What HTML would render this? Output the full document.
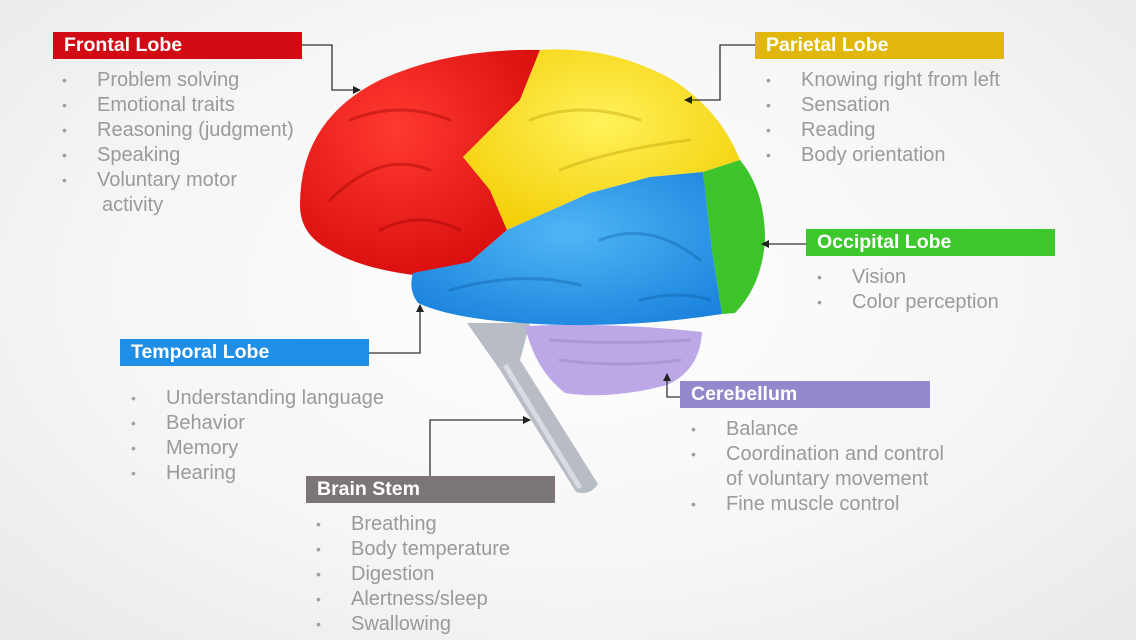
<!DOCTYPE html>
<html><head><meta charset="utf-8"><style>
body{margin:0;width:1136px;height:640px;overflow:hidden;background:radial-gradient(ellipse at 50% 45%,#ffffff 0%,#f6f6f6 55%,#e9e9e9 100%);font-family:"Liberation Sans",sans-serif;position:relative}
.box{position:absolute;height:27px;color:#fff;font-weight:bold;font-size:19.5px;line-height:27px;padding-left:11px;box-sizing:border-box}
.l{position:absolute;color:#9a9a9a;font-size:20px;line-height:25px;white-space:nowrap}
.l div{position:relative;padding-left:35px}
.l div.b:before{content:"•";position:absolute;left:0;font-size:14px;color:#a0a0a0}
svg{position:absolute;left:0;top:0}
</style></head><body>
<svg width="1136" height="640" viewBox="0 0 1136 640">
<defs>
<marker id="a" markerWidth="8" markerHeight="8" refX="7" refY="4" orient="auto" markerUnits="userSpaceOnUse"><path d="M0,0L8,4L0,8z" fill="#222"/></marker>
<radialGradient id="rg" cx="0.4" cy="0.35" r="0.7"><stop offset="0" stop-color="#ff3a30"/><stop offset="1" stop-color="#d80d0d"/></radialGradient>
<radialGradient id="yg" cx="0.5" cy="0.4" r="0.7"><stop offset="0" stop-color="#fff25a"/><stop offset="1" stop-color="#f2cc00"/></radialGradient>
<radialGradient id="bg" cx="0.5" cy="0.4" r="0.7"><stop offset="0" stop-color="#4fb6f5"/><stop offset="1" stop-color="#1a82dc"/></radialGradient>
</defs>
<path d="M467,323 L530,323 L520,360 L598,484 Q590,496 576,492 L500,370 Z" fill="#b8bcc4"/>
<path d="M505,365 L580,488" stroke="#d8dce2" stroke-width="5"/>
<path d="M525,326 Q610,322 702,332 Q700,370 667,385 Q610,400 565,393 Q535,370 525,326Z" fill="#bca8e6"/>
<path d="M300,205 Q300,120 380,80 Q450,48 540,50 L520,100 L463,157 L490,190 L507,230 L470,262 L413,275 Q360,268 330,250 Q300,235 300,205Z" fill="url(#rg)"/>
<path d="M540,50 Q610,45 673,80 Q720,110 740,160 L703,172 L650,177 L590,193 L507,230 L490,190 L463,157 L520,100 Z" fill="url(#yg)"/>
<path d="M740,160 Q765,190 765,240 Q762,285 735,313 L722,314 L712,250 L703,172 Z" fill="#3cc42a"/>
<path d="M413,273 L470,262 L507,230 L590,193 L650,177 L703,172 L712,250 L722,314 Q620,330 520,323 Q450,318 418,303 Q408,290 413,273Z" fill="url(#bg)"/>
<g fill="none" stroke-linecap="round" stroke-width="3" opacity="0.35">
<path d="M330,200 Q380,150 430,170 M350,120 Q400,100 450,120 M380,230 Q420,210 460,230" stroke="#8a0000"/>
<path d="M530,120 Q580,100 640,120 M560,170 Q610,150 690,140" stroke="#b89400"/>
<path d="M450,290 Q520,270 580,285 M600,240 Q650,220 700,260 M640,300 Q680,290 710,300" stroke="#0a5aa0"/>
<path d="M550,340 Q620,345 690,340 M560,360 Q620,368 680,360" stroke="#8a7ab8"/>
</g>
<g stroke="#333" stroke-width="1.3" fill="none">
<path d="M302,45 H332 V90 H360" marker-end="url(#a)"/>
<path d="M755,45 H720 V100 H685" marker-end="url(#a)"/>
<path d="M806,244 H762" marker-end="url(#a)"/>
<path d="M369,353 H420 V305" marker-end="url(#a)"/>
<path d="M680,397 H667 V374" marker-end="url(#a)"/>
<path d="M430,477 V420 H530" marker-end="url(#a)"/>
</g>
</svg>
<div class="box" style="left:53px;top:32px;width:249px;background:#d10a14">Frontal Lobe</div>
<div class="l" style="left:62px;top:68px"><div class="b">Problem solving</div><div class="b">Emotional traits</div><div class="b">Reasoning (judgment)</div><div class="b">Speaking</div><div class="b">Voluntary motor</div><div style="padding-left:40px">activity</div></div>
<div class="box" style="left:755px;top:32px;width:249px;background:#e0b70a">Parietal Lobe</div>
<div class="l" style="left:766px;top:68px"><div class="b">Knowing right from left</div><div class="b">Sensation</div><div class="b">Reading</div><div class="b">Body orientation</div></div>
<div class="box" style="left:806px;top:229px;width:249px;background:#3cc72c">Occipital Lobe</div>
<div class="l" style="left:817px;top:265px"><div class="b">Vision</div><div class="b">Color perception</div></div>
<div class="box" style="left:120px;top:339px;width:249px;background:#1e8ee6">Temporal Lobe</div>
<div class="l" style="left:131px;top:386px"><div class="b">Understanding language</div><div class="b">Behavior</div><div class="b">Memory</div><div class="b">Hearing</div></div>
<div class="box" style="left:680px;top:381px;width:250px;background:#9587cc">Cerebellum</div>
<div class="l" style="left:691px;top:417px"><div class="b">Balance</div><div class="b">Coordination and control</div><div>of voluntary movement</div><div class="b">Fine muscle control</div></div>
<div class="box" style="left:306px;top:476px;width:249px;background:#7c7575">Brain Stem</div>
<div class="l" style="left:316px;top:512px"><div class="b">Breathing</div><div class="b">Body temperature</div><div class="b">Digestion</div><div class="b">Alertness/sleep</div><div class="b">Swallowing</div></div>
</body></html>
